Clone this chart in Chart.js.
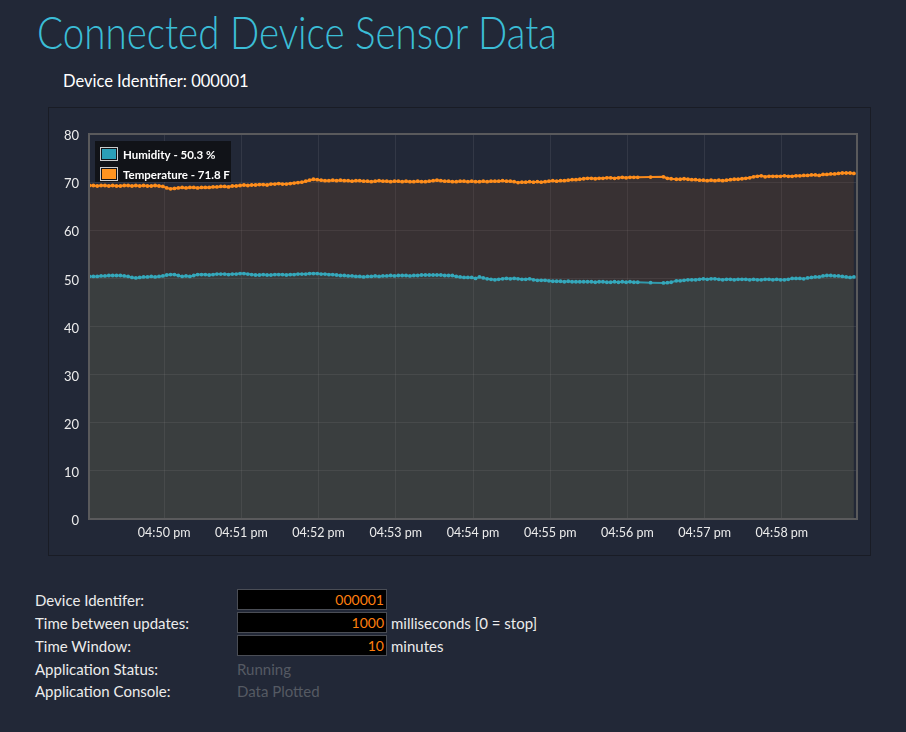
<!DOCTYPE html>
<html>
<head>
<meta charset="utf-8">
<script src="https://cdn.jsdelivr.net/npm/chart.js@4.4.1/dist/chart.umd.min.js"></script>
<style>
  html, body { margin: 0; padding: 0; }
  body { width: 906px; height: 732px; background: #222837; font-family: Lato, "Open Sans", sans-serif; position: relative; overflow: hidden; color: #ececec; }
  #title { position: absolute; left: 37px; top: 9px; margin: 0; font-size: 46px; line-height: 46px; font-weight: 300; color: #3bbdd6; white-space: nowrap; transform-origin: 0 0; }
  #devhead { position: absolute; left: 63px; top: 71px; font-size: 16.5px; line-height: 20px; color: #ffffff; white-space: nowrap; }
  #panel { position: absolute; left: 48px; top: 107px; width: 821px; height: 447px; border: 1px solid #191c25; }
  #panel canvas { position: absolute; left: 0; top: 0; }
  .lbl { position: absolute; left: 35px; font-size: 15px; line-height: 20px; color: #ececec; white-space: nowrap; }
  .inp { position: absolute; left: 237px; width: 146px; height: 19px; background: #000; border: 1px solid #4a4d55; color: #ff7f0e; font-size: 14px; line-height: 19px; text-align: right; padding-right: 2px; }
  .unit { position: absolute; left: 391px; font-size: 15px; line-height: 20px; color: #ececec; white-space: nowrap; }
  .stat { position: absolute; left: 237px; font-size: 15px; line-height: 20px; color: #555a63; white-space: nowrap; }
</style>
</head>
<body>
<h1 id="title">Connected Device Sensor Data</h1>
<div id="devhead">Device Identifier: 000001</div>
<div id="panel"><canvas id="c" width="821" height="447"></canvas></div>

<div class="lbl" style="top:590px">Device Identifer:</div>
<div class="inp" style="top:589px">000001</div>
<div class="lbl" style="top:613px">Time between updates:</div>
<div class="inp" style="top:612px">1000</div>
<div class="unit" style="top:613px">milliseconds [0 = stop]</div>
<div class="lbl" style="top:636px">Time Window:</div>
<div class="inp" style="top:635px">10</div>
<div class="unit" style="top:636px">minutes</div>
<div class="lbl" style="top:659px">Application Status:</div>
<div class="stat" style="top:659px">Running</div>
<div class="lbl" style="top:681px">Application Console:</div>
<div class="stat" style="top:681px">Data Plotted</div>

<script>
// seconds after 04:49:00 pm
const times = [
  2,5,8,11,14,17,20,23,26,29,
  32,35,38,41,44,47,50,53,56,59,
  62,65,68,71,74,77,80,83,86,89,
  92,95,98,101,104,107,110,113,116,119,
  122,125,128,131,134,137,140,143,146,149,
  152,155,158,161,164,167,170,173,176,179,
  182,185,188,191,194,197,200,203,206,209,
  212,215,218,221,224,227,230,233,236,239,
  242,245,248,251,254,257,260,263,266,269,
  272,275,278,281,284,287,290,293,296,299,
  302,305,308,311,314,317,320,323,326,329,
  332,335,338,341,344,347,350,353,356,359,
  362,365,368,371,374,377,380,383,386,389,
  392,395,398,401,404,407,410,413,416,419,
  422,425,428,
  438,448,451,454,458,
  461,464,467,470,473,476,479,482,485,488,
  491,494,497,500,503,506,509,512,515,518,
  521,524,527,530,533,536,539,542,545,548,
  551,554,557,560,563,566,569,572,575,578,
  581,584,587,590,593,596
];

const humidity = [
  50.4,50.4,50.4,50.5,50.5,50.6,50.6,50.6,50.6,50.5,
  50.4,50.2,50.1,50.2,50.3,50.3,50.4,50.3,50.4,50.5,
  50.7,50.8,50.8,50.6,50.4,50.5,50.4,50.6,50.8,50.8,
  50.8,50.7,50.8,50.9,50.9,50.9,50.8,50.9,50.9,51.0,
  51.0,50.9,50.8,50.7,50.7,50.8,50.7,50.7,50.8,50.8,
  50.8,50.7,50.8,50.8,50.9,50.9,50.9,51.0,51.0,51.0,
  50.9,50.9,50.8,50.8,50.7,50.6,50.6,50.5,50.5,50.4,
  50.4,50.3,50.4,50.4,50.5,50.4,50.5,50.5,50.6,50.5,
  50.6,50.6,50.6,50.5,50.6,50.6,50.7,50.7,50.7,50.7,
  50.7,50.7,50.6,50.6,50.6,50.4,50.3,50.2,50.2,50.2,
  50.0,50.3,50.1,49.9,49.8,49.7,49.8,49.9,50.0,49.9,
  50.0,49.9,49.8,49.8,49.9,49.7,49.6,49.6,49.6,49.5,
  49.4,49.4,49.4,49.3,49.4,49.3,49.3,49.3,49.3,49.3,
  49.3,49.2,49.3,49.3,49.2,49.2,49.3,49.2,49.3,49.2,
  49.3,49.2,49.2,
  49.1,49.05,49.1,49.2,49.5,
  49.5,49.6,49.7,49.7,49.7,49.8,49.9,49.8,49.9,49.9,
  49.8,49.7,49.8,49.8,49.7,49.8,49.8,49.8,49.7,49.8,
  49.7,49.7,49.8,49.8,49.7,49.8,49.7,49.7,49.8,50.0,
  50.0,50.0,49.9,50.1,50.2,50.3,50.3,50.5,50.6,50.6,
  50.5,50.5,50.4,50.3,50.2,50.3
];

const temperature = [
  69.3,69.3,69.2,69.3,69.3,69.2,69.3,69.2,69.2,69.3,
  69.3,69.2,69.3,69.2,69.3,69.2,69.2,69.3,69.2,69.1,
  68.8,68.6,68.7,68.8,68.9,68.8,68.9,68.9,68.8,68.9,
  68.9,68.9,69.0,69.0,69.1,69.1,69.0,69.2,69.2,69.3,
  69.4,69.3,69.4,69.4,69.5,69.5,69.4,69.6,69.6,69.7,
  69.6,69.6,69.7,69.8,69.9,70.0,70.2,70.4,70.6,70.5,
  70.4,70.3,70.3,70.4,70.3,70.4,70.3,70.3,70.2,70.3,
  70.3,70.2,70.2,70.1,70.2,70.3,70.2,70.2,70.1,70.2,
  70.2,70.1,70.2,70.1,70.1,70.2,70.1,70.1,70.2,70.3,
  70.4,70.3,70.2,70.2,70.1,70.1,70.2,70.2,70.1,70.2,
  70.1,70.1,70.2,70.1,70.2,70.2,70.2,70.3,70.2,70.2,
  70.1,69.9,70.0,70.0,70.1,70.0,70.1,70.0,70.1,70.2,
  70.3,70.2,70.3,70.3,70.4,70.5,70.5,70.6,70.7,70.8,
  70.8,70.7,70.8,70.8,70.9,70.9,70.8,70.9,71.0,70.9,
  71.0,71.0,71.0,
  71.05,71.1,70.8,70.7,70.6,
  70.6,70.7,70.6,70.5,70.5,70.4,70.4,70.3,70.4,70.3,
  70.4,70.3,70.4,70.5,70.6,70.6,70.7,70.8,70.9,71.1,
  71.2,71.3,71.1,71.2,71.2,71.2,71.2,71.3,71.2,71.2,
  71.3,71.3,71.4,71.4,71.5,71.5,71.4,71.6,71.6,71.7,
  71.7,71.8,71.9,71.9,71.9,71.8
];

const xTickSeconds = [60,120,180,240,300,360,420,480,540];
const xTickLabels = ["04:50 pm","04:51 pm","04:52 pm","04:53 pm","04:54 pm","04:55 pm","04:56 pm","04:57 pm","04:58 pm"];
const yTicks = [0,10,20,30,40,50,60,70,80];

const humColor = '#35a8bb';
const tempColor = '#ff8e1c';

const plotFrame = {
  id: 'plotFrame',
  afterDatasetsDraw(chart) {
    const a = chart.chartArea, ctx = chart.ctx;
    ctx.save();
    ctx.strokeStyle = '#5a5a5c';
    ctx.lineWidth = 2;
    ctx.strokeRect(a.left, a.top, a.right - a.left, a.bottom - a.top);
    ctx.restore();
  }
};

const boxLegend = {
  id: 'boxLegend',
  afterDraw(chart) {
    const a = chart.chartArea, ctx = chart.ctx;
    const x0 = a.left + 6, y0 = a.top + 7;
    ctx.save();
    ctx.fillStyle = 'rgba(17,19,23,0.96)';
    ctx.fillRect(x0, y0, 136, 41);
    chart.data.datasets.forEach((ds, i) => {
      const sy = y0 + 6 + i * 20;
      ctx.strokeStyle = '#cccccc';
      ctx.lineWidth = 1;
      ctx.strokeRect(x0 + 5.5, sy + 0.5, 17, 13);
      ctx.fillStyle = ds.legendColor;
      ctx.fillRect(x0 + 7, sy + 2, 14, 10);
      ctx.fillStyle = '#ffffff';
      ctx.font = 'bold 11.5px Lato';
      ctx.textBaseline = 'alphabetic';
      ctx.textAlign = 'left';
      ctx.fillText(ds.label, x0 + 28, sy + 11.5);
    });
    ctx.restore();
  }
};

function build() {
  const hum = times.map((t, i) => ({ x: t, y: humidity[i] }));
  const tmp = times.map((t, i) => ({ x: t, y: temperature[i] }));
  new Chart(document.getElementById('c'), {
    type: 'line',
    data: {
      datasets: [
        {
          label: 'Humidity - ' + humidity[humidity.length - 1].toFixed(1) + ' %',
          data: hum,
          borderColor: '#3299ab',
          legendColor: '#2b9fb8',
          backgroundColor: 'rgba(130,128,88,0.25)',
          fill: 'origin',
          borderWidth: 2,
          pointRadius: 1.9,
          pointBackgroundColor: humColor,
          pointBorderWidth: 0,
          tension: 0
        },
        {
          label: 'Temperature - ' + temperature[temperature.length - 1].toFixed(1) + ' F',
          data: tmp,
          borderColor: '#f98a1c',
          legendColor: '#ff9421',
          backgroundColor: 'rgba(122,76,40,0.25)',
          fill: '-1',
          borderWidth: 2,
          pointRadius: 1.9,
          pointBackgroundColor: tempColor,
          pointBorderWidth: 0,
          tension: 0
        }
      ]
    },
    options: {
      responsive: false,
      animation: false,
      layout: { padding: { left: 0, top: 26, right: 13, bottom: 0 } },
      plugins: { legend: { display: false }, tooltip: { enabled: false } },
      scales: {
        x: {
          type: 'linear',
          min: 1.6,
          max: 598.4,
          afterBuildTicks(scale) { scale.ticks = xTickSeconds.map(v => ({ value: v })); },
          afterFit(scale) { scale.height = 36; },
          grid: { color: 'rgba(255,255,255,0.08)', drawTicks: false },
          border: { display: false },
          ticks: {
            autoSkip: false, maxRotation: 0, padding: 6,
            color: '#ececec', font: { family: 'Lato', size: 12.5 },
            callback(v) { const k = xTickSeconds.indexOf(v); return k >= 0 ? xTickLabels[k] : ''; }
          }
        },
        y: {
          min: 0,
          max: 80,
          afterBuildTicks(scale) { scale.ticks = yTicks.map(v => ({ value: v })); },
          afterFit(scale) { scale.width = 40; },
          grid: { color: 'rgba(255,255,255,0.08)', drawTicks: false },
          border: { display: false },
          ticks: {
            padding: 10, labelOffset: 2, color: '#ececec', font: { family: 'Lato', size: 13 },
            callback(v) { return String(v); }
          }
        }
      }
    },
    plugins: [plotFrame, boxLegend]
  });
}

Promise.all([
  document.fonts.load('12px Lato'),
  document.fonts.load('bold 11px Lato'),
  document.fonts.load('300 46px Lato')
]).catch(() => {}).then(() => {
  const t = document.getElementById('title');
  const w = t.getBoundingClientRect().width;
  if (w > 0) t.style.transform = 'scaleX(' + (520 / w) + ')';
  build();
});
</script>
</body>
</html>
